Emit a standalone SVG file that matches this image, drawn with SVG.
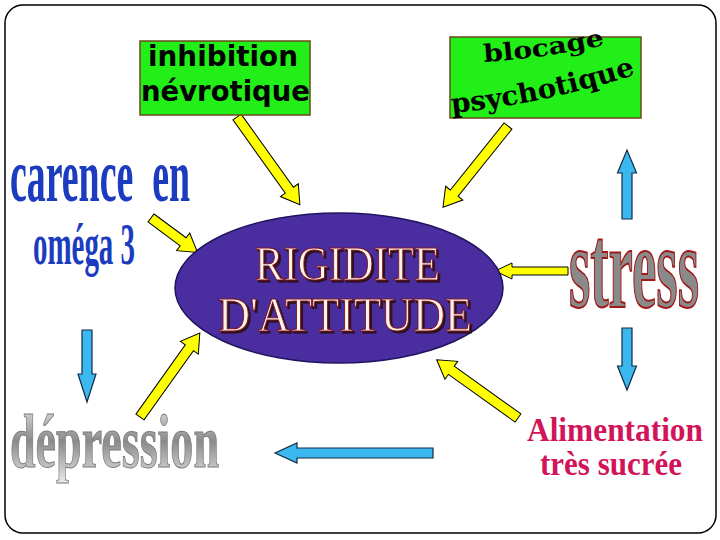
<svg xmlns="http://www.w3.org/2000/svg" width="720" height="540" viewBox="0 0 720 540">
<defs>
<style>
.box{fill:#22ee18;stroke:#6b4a1a;stroke-width:1.5}
.ya{fill:#ffff00;stroke:#000;stroke-width:1}
.ba{fill:#3cb8f0;stroke:#102a44;stroke-width:1.2}
.sans{font-family:"DejaVu Sans","Noto Sans",sans-serif;font-weight:bold;fill:#000}
.serif{font-family:"Liberation Serif","DejaVu Serif",serif}
</style>
<linearGradient id="gray" x1="0" y1="0" x2="0" y2="1">
<stop offset="0" stop-color="#f0f0f0"/>
<stop offset="0.5" stop-color="#8a8a8a"/>
<stop offset="1" stop-color="#e8e8e8"/>
</linearGradient>
<filter id="sh" x="-10%" y="-10%" width="120%" height="130%">
<feDropShadow dx="2" dy="2" stdDeviation="0.6" flood-color="#2a0a10" flood-opacity="0.9"/>
</filter>
<path id="p1" d="M484,62 Q545,58 606,45"/>
<path id="p2" d="M452,113 Q545,104 640,73"/>
</defs>
<rect x="5" y="5" width="711" height="528" rx="18" fill="#fff" stroke="#000" stroke-width="1.5"/>

<g id="connectors">
<polygon class="ya" points="0,-5 90,-5 90,-11 108,0 90,11 90,5 0,5" transform="translate(237,117) rotate(54.4)"/>
<polygon class="ya" points="0,-5 86,-5 86,-11 104,0 86,11 86,5 0,5" transform="translate(508,126) rotate(128.7)"/>
<polygon class="ya" points="0,-5 40,-5 40,-11 58,0 40,11 40,5 0,5" transform="translate(151,218) rotate(36.5)"/>
<polygon class="ya" points="0,-4 56,-4 56,-8 73,0 56,8 56,4 0,4" transform="translate(568,271) rotate(180)"/>
<polygon class="ya" points="0,-5 85,-5 85,-11 103,0 85,11 85,5 0,5" transform="translate(140,417) rotate(-54.5)"/>
<polygon class="ya" points="0,-5 82,-5 82,-11 100,0 82,11 82,5 0,5" transform="translate(518,418) rotate(215.6)"/>
<polygon class="ba" points="0,-5 46,-5 46,-9.5 69,0 46,9.5 46,5 0,5" transform="translate(627,219) rotate(-90)"/>
<polygon class="ba" points="0,-5 44,-5 44,-9 72,0 44,9 44,5 0,5" transform="translate(87,330) rotate(90)"/>
<polygon class="ba" points="0,-5 38,-5 38,-9.5 62,0 38,9.5 38,5 0,5" transform="translate(627,328) rotate(90)"/>
<polygon class="ba" points="0,-5 136,-5 136,-10 158,0 136,10 136,5 0,5" transform="translate(433,453) rotate(180)"/>
</g>

<g id="inhibition">
<rect class="box" x="140" y="41" width="170" height="74"/>
<text class="sans" x="148" y="66" font-size="28" textLength="150" lengthAdjust="spacingAndGlyphs">inhibition</text>
<text class="sans" x="141" y="101" font-size="28" textLength="169" lengthAdjust="spacingAndGlyphs">névrotique</text>
</g>

<g id="blocage">
<rect class="box" x="450" y="37" width="191" height="81"/>
<text font-family="DejaVu Serif,serif" font-weight="bold" font-size="24" fill="#000"><textPath href="#p1" textLength="122" lengthAdjust="spacingAndGlyphs">blocage</textPath></text>
<text font-family="DejaVu Serif,serif" font-weight="bold" font-size="27" fill="#000"><textPath href="#p2" textLength="188" lengthAdjust="spacingAndGlyphs">psychotique</textPath></text>
</g>

<g id="carence">
<text class="serif" x="10" y="201" font-size="76" font-weight="bold" fill="#1c3cc0" textLength="180" lengthAdjust="spacingAndGlyphs" style="white-space:pre">carence  en</text>
<text class="serif" x="33" y="264" font-size="60" font-weight="bold" fill="#1c3cc0" textLength="102" lengthAdjust="spacingAndGlyphs">oméga 3</text>
</g>

<g id="rigidite">
<ellipse cx="339" cy="288" rx="164" ry="75" fill="#4a2d9e" stroke="#1e1460" stroke-width="1.5"/>
<g filter="url(#sh)">
<text class="serif" x="255" y="280" font-size="49" fill="#fff4e8" stroke="#7a1020" stroke-width="1" textLength="185" lengthAdjust="spacingAndGlyphs">RIGIDITE</text>
<text class="serif" x="218" y="331" font-size="49" fill="#fff4e8" stroke="#7a1020" stroke-width="1" textLength="254" lengthAdjust="spacingAndGlyphs">D'ATTITUDE</text>
</g>
</g>

<g id="stress">
<text class="serif" x="569" y="307" font-size="118" font-weight="bold" fill="#8a8a8a" stroke="#a01818" stroke-width="2" textLength="130" lengthAdjust="spacingAndGlyphs">stress</text>
</g>

<g id="alimentation">
<text class="serif" x="527" y="441" font-size="33" font-weight="bold" fill="#d2145a" textLength="176" lengthAdjust="spacingAndGlyphs">Alimentation</text>
<text class="serif" x="540" y="475" font-size="33" font-weight="bold" fill="#d2145a" textLength="142" lengthAdjust="spacingAndGlyphs">très sucrée</text>
</g>

<g id="depression">
<text class="serif" x="10" y="467" font-size="76" font-weight="bold" fill="url(#gray)" stroke="#7a7a7a" stroke-width="1" textLength="209" lengthAdjust="spacingAndGlyphs">dépression</text>
</g>
</svg>
